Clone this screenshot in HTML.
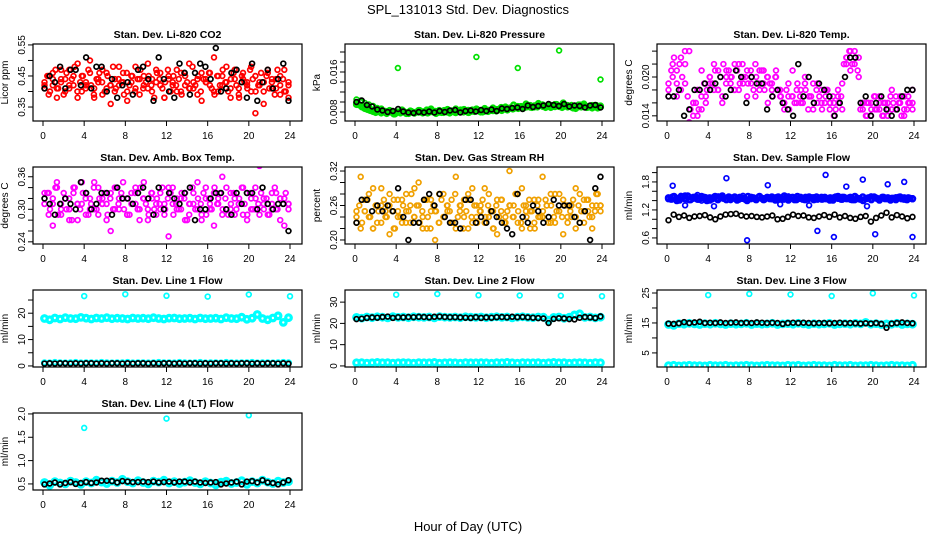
<!DOCTYPE html>
<html><head><meta charset="utf-8">
<style>
html,body{margin:0;padding:0;background:#fff;}
svg{display:block;font-family:"Liberation Sans",sans-serif;}
</style></head>
<body>
<svg id="chart" width="936" height="540" viewBox="0 0 936 540">
<text x="468" y="14" text-anchor="middle" font-size="13">SPL_131013  Std. Dev. Diagnostics</text>
<text x="468" y="531" text-anchor="middle" font-size="13">Hour of Day (UTC)</text>
</svg>
<script>
const xTicks=[0,4,8,12,16,20,24];
// Panel 1 CO2
const co2Red=[0.43,0.39,0.46,0.41,0.44,0.40,0.47,0.42,0.38,0.45,0.43,0.50,0.41,0.44,0.39,0.46,0.42,0.40,0.48,0.43,0.37,0.45,0.41,0.44,0.42,0.49,0.40,0.43,0.46,0.38,0.44,0.42,0.47,0.40,0.45,0.41,0.43,0.39,0.46,0.44,0.42,0.51,0.40,0.45,0.43,0.38,0.47,0.41,0.44,0.42,0.48,0.33,0.43,0.40,0.46,0.41,0.44,0.39,0.47,0.42];
const co2Red2=[0.41,0.45,0.42,0.38,0.47,0.44,0.41,0.45,0.49,0.40,0.42,0.46,0.38,0.43,0.47,0.41,0.36,0.44,0.42,0.46,0.40,0.43,0.48,0.39,0.45,0.41,0.44,0.47,0.42,0.38,0.45,0.43,0.40,0.46,0.42,0.49,0.41,0.44,0.37,0.43,0.46,0.40,0.45,0.42,0.48,0.41,0.44,0.39,0.46,0.43,0.40,0.45,0.42,0.36,0.47,0.43,0.41,0.45,0.40,0.38];
const co2Red3=[0.42,0.45,0.40,0.44,0.47,0.41,0.43,0.39,0.46,0.42,0.44,0.48,0.40,0.43,0.45,0.41,0.47,0.42,0.39,0.44,0.46,0.43,0.40,0.45,0.42,0.48,0.41,0.44,0.43,0.39,0.46,0.42,0.45,0.40,0.44,0.47,0.41,0.43,0.45,0.42,0.38,0.46,0.44,0.41,0.43,0.47,0.40,0.45,0.42,0.44,0.39,0.46,0.43,0.41,0.48,0.42,0.45,0.40,0.44,0.43,0.46,0.41,0.39,0.45,0.42,0.47,0.43,0.40,0.44,0.46,0.42,0.38,0.45,0.43,0.41,0.47,0.44,0.40,0.42,0.46,0.43,0.45,0.41,0.44,0.39,0.47,0.42,0.44,0.40,0.43];
const co2Black=[0.41,0.45,0.43,0.48,0.41,0.47,0.47,0.42,0.51,0.41,0.48,0.48,0.40,0.44,0.38,0.42,0.43,0.39,0.47,0.48,0.44,0.37,0.51,0.44,0.40,0.38,0.49,0.46,0.39,0.46,0.49,0.48,0.44,0.54,0.40,0.41,0.46,0.47,0.43,0.38,0.49,0.37,0.43,0.47,0.41,0.44,0.49,0.37];
// Panel 2 Pressure
const presGreen=[0.0105,0.0100,0.0098,0.0095,0.0092,0.0088,0.0085,0.0082,0.0080,0.0079,0.0168,0.0081,0.0078,0.0080,0.0077,0.0079,0.0081,0.0078,0.0080,0.0082,0.0079,0.0081,0.0083,0.0080,0.0078,0.0082,0.0080,0.0084,0.0081,0.0190,0.0083,0.0081,0.0084,0.0082,0.0085,0.0083,0.0086,0.0088,0.0086,0.0168,0.0090,0.0092,0.0089,0.0093,0.0091,0.0095,0.0092,0.0094,0.0090,0.0203,0.0093,0.0091,0.0094,0.0092,0.0090,0.0093,0.0089,0.0092,0.0090,0.0145];
const presGreen2=[0.0095,0.0102,0.0092,0.0088,0.0084,0.0082,0.0086,0.0079,0.0083,0.0076,0.0080,0.0084,0.0077,0.0082,0.0079,0.0083,0.0078,0.0084,0.0086,0.0080,0.0083,0.0079,0.0085,0.0082,0.0086,0.0081,0.0085,0.0079,0.0084,0.0086,0.0080,0.0087,0.0083,0.0088,0.0085,0.0089,0.0090,0.0087,0.0094,0.0091,0.0088,0.0096,0.0093,0.0090,0.0097,0.0094,0.0092,0.0089,0.0095,0.0091,0.0098,0.0093,0.0090,0.0087,0.0094,0.0096,0.0091,0.0088,0.0093,0.0090];
const presGreen3=[0.0098,0.0094,0.0090,0.0087,0.0085,0.0083,0.0081,0.0079,0.0082,0.0078,0.0080,0.0077,0.0081,0.0079,0.0076,0.0080,0.0078,0.0082,0.0079,0.0077,0.0081,0.0078,0.0080,0.0083,0.0079,0.0081,0.0078,0.0082,0.0080,0.0077,0.0081,0.0079,0.0083,0.0080,0.0078,0.0082,0.0079,0.0081,0.0084,0.0080,0.0082,0.0079,0.0083,0.0081,0.0085,0.0082,0.0080,0.0084,0.0081,0.0083,0.0086,0.0082,0.0085,0.0083,0.0087,0.0084,0.0088,0.0086,0.0089,0.0087,0.0091,0.0088,0.0090,0.0093,0.0089,0.0092,0.0090,0.0094,0.0091,0.0089,0.0093,0.0090,0.0092,0.0095,0.0091,0.0089,0.0093,0.0090,0.0092,0.0088,0.0091,0.0094,0.0090,0.0092,0.0089,0.0091,0.0093,0.0090,0.0088,0.0092];
const presBlack=[0.0100,0.0103,0.0094,0.0091,0.0085,0.0083,0.0080,0.0082,0.0086,0.0081,0.0079,0.0078,0.0080,0.0079,0.0081,0.0079,0.0082,0.0080,0.0083,0.0084,0.0079,0.0082,0.0083,0.0081,0.0084,0.0082,0.0085,0.0082,0.0087,0.0086,0.0088,0.0089,0.0086,0.0093,0.0090,0.0092,0.0093,0.0096,0.0094,0.0092,0.0096,0.0091,0.0093,0.0092,0.0089,0.0093,0.0094,0.0089];
// Panel 3 Li-820 Temp
const tempMag=[0.019,0.022,0.017,0.023,0.019,0.024,0.016,0.014,0.015,0.017,0.019,0.018,0.021,0.017,0.020,0.019,0.022,0.018,0.020,0.021,0.019,0.017,0.021,0.019,0.020,0.018,0.020,0.017,0.016,0.019,0.017,0.016,0.018,0.020,0.017,0.019,0.016,0.018,0.017,0.015,0.016,0.018,0.015,0.023,0.024,0.022,0.023,0.016,0.014,0.016,0.015,0.017,0.014,0.016,0.015,0.017,0.016,0.014,0.017,0.016];
const tempMag2=[0.017,0.020,0.021,0.018,0.022,0.013,0.016,0.018,0.021,0.016,0.020,0.022,0.018,0.016,0.021,0.020,0.018,0.022,0.019,0.017,0.020,0.022,0.018,0.021,0.016,0.019,0.021,0.018,0.015,0.017,0.021,0.018,0.016,0.019,0.017,0.015,0.019,0.016,0.018,0.016,0.014,0.017,0.019,0.022,0.021,0.024,0.020,0.015,0.016,0.014,0.017,0.015,0.016,0.014,0.018,0.015,0.017,0.015,0.016,0.018];
const tempMag3=[0.018,0.021,0.023,0.019,0.022,0.020,0.024,0.017,0.015,0.014,0.016,0.015,0.017,0.019,0.018,0.020,0.019,0.021,0.018,0.020,0.022,0.019,0.021,0.020,0.018,0.021,0.019,0.022,0.020,0.019,0.021,0.018,0.020,0.019,0.021,0.018,0.020,0.019,0.017,0.020,0.018,0.017,0.016,0.018,0.015,0.017,0.016,0.019,0.017,0.016,0.018,0.015,0.017,0.016,0.018,0.017,0.015,0.016,0.018,0.016,0.017,0.015,0.016,0.017,0.022,0.023,0.024,0.022,0.023,0.021,0.015,0.016,0.014,0.016,0.015,0.017,0.015,0.016,0.014,0.016,0.015,0.017,0.016,0.015,0.016,0.014,0.017,0.015,0.016,0.015];
const tempBlack=[0.017,0.017,0.018,0.014,0.015,0.018,0.018,0.019,0.018,0.019,0.020,0.017,0.018,0.021,0.020,0.016,0.020,0.019,0.019,0.015,0.017,0.018,0.016,0.015,0.014,0.022,0.017,0.020,0.016,0.019,0.018,0.017,0.014,0.016,0.020,0.023,0.023,0.016,0.017,0.014,0.016,0.017,0.015,0.014,0.015,0.017,0.018,0.018];
// Panel 4 Amb box temp
const ambMag=[0.31,0.33,0.27,0.35,0.29,0.32,0.30,0.34,0.28,0.31,0.33,0.30,0.35,0.29,0.32,0.31,0.26,0.34,0.30,0.32,0.29,0.33,0.31,0.28,0.35,0.30,0.32,0.29,0.33,0.31,0.25,0.34,0.30,0.32,0.28,0.31,0.33,0.30,0.29,0.34,0.31,0.27,0.32,0.36,0.30,0.33,0.29,0.31,0.34,0.28,0.32,0.30,0.38,0.31,0.29,0.33,0.30,0.32,0.27,0.31];
const ambMag2=[0.33,0.29,0.31,0.34,0.30,0.32,0.28,0.33,0.31,0.35,0.29,0.32,0.30,0.34,0.31,0.28,0.33,0.30,0.32,0.35,0.29,0.31,0.34,0.30,0.32,0.28,0.33,0.31,0.30,0.29,0.34,0.31,0.32,0.30,0.33,0.29,0.31,0.35,0.28,0.32,0.30,0.33,0.31,0.29,0.34,0.30,0.32,0.31,0.29,0.33,0.30,0.34,0.29,0.32,0.31,0.30,0.33,0.28,0.32,0.31];
const ambMag3=[0.31,0.33,0.30,0.32,0.34,0.29,0.31,0.33,0.30,0.32,0.28,0.34,0.31,0.30,0.33,0.32,0.29,0.31,0.34,0.30,0.32,0.31,0.33,0.29,0.32,0.30,0.34,0.31,0.33,0.30,0.32,0.29,0.31,0.33,0.30,0.34,0.32,0.31,0.29,0.33,0.30,0.32,0.31,0.34,0.30,0.32,0.33,0.29,0.31,0.30,0.33,0.32,0.28,0.31,0.34,0.30,0.32,0.31,0.33,0.29,0.32,0.30,0.34,0.31,0.33,0.30,0.32,0.29,0.31,0.33,0.30,0.32,0.34,0.31,0.29,0.33,0.30,0.32,0.31,0.33,0.30,0.32,0.29,0.31,0.34,0.30,0.32,0.31,0.33,0.30];
const ambBlack=[0.32,0.31,0.29,0.31,0.32,0.31,0.30,0.35,0.33,0.30,0.31,0.33,0.33,0.29,0.34,0.32,0.32,0.31,0.33,0.34,0.32,0.29,0.34,0.30,0.33,0.32,0.31,0.33,0.34,0.28,0.30,0.30,0.32,0.33,0.33,0.30,0.29,0.33,0.31,0.33,0.33,0.30,0.34,0.31,0.30,0.31,0.31,0.26];
// Panel 5 Gas stream RH
const rhYel=[0.23,0.31,0.25,0.28,0.22,0.26,0.29,0.24,0.21,0.27,0.25,0.23,0.28,0.26,0.24,0.30,0.22,0.27,0.25,0.20,0.28,0.24,0.26,0.23,0.31,0.25,0.27,0.22,0.29,0.24,0.26,0.23,0.28,0.25,0.21,0.27,0.24,0.32,0.26,0.23,0.29,0.25,0.22,0.27,0.24,0.31,0.26,0.23,0.28,0.25,0.21,0.26,0.24,0.29,0.23,0.27,0.25,0.22,0.28,0.26];
const rhYel2=[0.25,0.22,0.27,0.24,0.29,0.23,0.26,0.25,0.28,0.22,0.24,0.27,0.25,0.23,0.29,0.26,0.24,0.22,0.27,0.25,0.23,0.28,0.25,0.27,0.22,0.26,0.24,0.28,0.23,0.26,0.25,0.29,0.24,0.22,0.27,0.25,0.23,0.26,0.24,0.28,0.22,0.26,0.25,0.23,0.27,0.24,0.26,0.28,0.23,0.25,0.27,0.24,0.26,0.22,0.28,0.25,0.27,0.24,0.26,0.25];
const rhYel3=[0.24,0.26,0.23,0.25,0.27,0.24,0.22,0.26,0.25,0.23,0.27,0.24,0.26,0.25,0.22,0.27,0.24,0.26,0.23,0.25,0.28,0.24,0.26,0.23,0.25,0.27,0.24,0.22,0.26,0.25,0.23,0.27,0.24,0.26,0.25,0.23,0.28,0.24,0.26,0.22,0.25,0.27,0.24,0.26,0.23,0.25,0.27,0.24,0.26,0.25,0.22,0.26,0.24,0.27,0.23,0.25,0.26,0.24,0.28,0.25,0.23,0.26,0.24,0.27,0.25,0.22,0.26,0.24,0.25,0.27,0.23,0.26,0.24,0.25,0.28,0.24,0.26,0.23,0.25,0.27,0.24,0.26,0.25,0.23,0.27,0.24,0.26,0.25,0.28,0.26];
const rhBlack=[0.23,0.27,0.27,0.25,0.26,0.25,0.26,0.25,0.29,0.24,0.20,0.23,0.23,0.27,0.28,0.26,0.28,0.24,0.23,0.23,0.22,0.27,0.27,0.23,0.24,0.23,0.25,0.24,0.23,0.22,0.21,0.28,0.24,0.23,0.26,0.25,0.23,0.24,0.27,0.26,0.26,0.26,0.24,0.23,0.25,0.20,0.29,0.31];
// Panel 6 Sample flow
const sfBlue=[1.46,1.72,1.42,1.50,1.30,1.48,1.44,1.52,1.40,1.47,1.43,1.28,1.49,1.45,1.88,1.41,1.47,1.44,1.50,0.55,1.46,1.42,1.48,1.45,1.73,1.43,1.47,1.32,1.44,1.49,1.46,1.41,1.48,1.45,1.30,1.47,0.75,1.43,1.95,1.46,0.62,1.44,1.48,1.70,1.42,1.47,1.45,1.85,1.28,1.49,0.68,1.44,1.46,1.75,1.43,1.47,1.45,1.80,1.44,0.62];
const sfBlue2=[1.44,1.48,1.40,1.46,1.50,1.42,1.47,1.43,1.49,1.45,1.41,1.47,1.44,1.50,1.42,1.46,1.48,1.43,1.45,1.40,1.47,1.44,1.49,1.42,1.46,1.48,1.43,1.45,1.50,1.41,1.47,1.44,1.46,1.42,1.48,1.45,1.43,1.47,1.44,1.41,1.46,1.49,1.43,1.45,1.47,1.42,1.44,1.48,1.45,1.43,1.46,1.41,1.47,1.44,1.45,1.42,1.48,1.43,1.46,1.44];
const sfBlue3=[1.46,1.43,1.49,1.45,1.41,1.47,1.44,1.50,1.42,1.46,1.48,1.43,1.45,1.47,1.40,1.46,1.44,1.49,1.42,1.47,1.45,1.43,1.48,1.44,1.46,1.41,1.47,1.45,1.43,1.49,1.44,1.46,1.42,1.48,1.45,1.43,1.47,1.44,1.46,1.41,1.48,1.45,1.43,1.47,1.44,1.46,1.42,1.49,1.45,1.43,1.47,1.44,1.46,1.42,1.48,1.45,1.43,1.47,1.44,1.46,1.41,1.48,1.45,1.43,1.47,1.44,1.46,1.42,1.49,1.45,1.43,1.40,1.44,1.46,1.42,1.48,1.45,1.43,1.47,1.44,1.46,1.41,1.45,1.43,1.47,1.44,1.46,1.42,1.45,1.44];
const sfBlack=[0.98,1.10,1.05,1.08,1.03,1.06,1.07,1.09,1.04,1.00,1.06,1.10,1.11,1.12,1.08,1.06,1.07,1.05,1.04,1.06,1.08,1.00,1.01,1.05,1.10,1.07,1.08,1.04,1.03,1.06,1.09,1.05,1.10,1.04,1.07,1.03,1.01,1.05,1.07,0.95,1.03,1.08,1.14,1.04,1.09,1.06,1.02,1.05];
// Panel 7 Line 1
const l1Cyan=[18.0,17.5,18.2,17.8,18.3,18.0,17.9,18.4,18.1,17.8,18.2,18.0,18.3,17.9,18.1,18.0,17.8,18.2,18.0,18.1,17.9,18.3,18.0,17.8,18.1,18.2,17.9,18.0,18.1,17.8,18.2,17.9,18.0,18.1,17.8,18.3,18.0,17.9,18.5,17.7,18.1,19.5,18.0,17.5,18.2,19.0,16.5,18.3];
const l1CyanLow=[1.2,1.1,1.3,1.2,1.1,1.2,1.3,1.1,1.2,1.2,1.1,1.3,1.2,1.1,1.2,1.2,1.3,1.1,1.2,1.2,1.1,1.2,1.3,1.2,1.2,1.1,1.3,1.2,1.1,1.2,1.3,1.1,1.2,1.2,1.1,1.3,1.2,1.1,1.2,1.2,1.3,1.1,1.2,1.2,1.1,1.2,1.3,1.2];
const l1Black=[0.9,1.0,0.9,1.0,1.0,0.9,1.0,0.9,1.0,1.0,0.9,1.0,0.9,1.0,1.0,0.9,1.0,0.9,1.0,1.0,0.9,1.0,0.9,1.0,1.0,0.9,1.0,0.9,1.0,1.0,0.9,1.0,0.9,1.0,1.0,0.9,1.0,0.9,1.0,1.0,0.9,1.0,0.9,1.0,1.0,0.9,1.0,0.8];
const l1OutHours=[4,8,12,16,20,24];
const l1OutVals=[26.5,27.2,26.6,26.3,27.1,26.4];
// Panel 8 Line 2
const l2Cyan=[22.8,22.5,23.0,22.7,23.1,22.9,22.6,23.2,22.8,23.0,22.7,23.1,22.9,22.8,23.0,22.6,23.2,22.9,22.8,23.0,22.7,23.1,22.9,22.8,23.0,22.7,22.9,23.1,22.8,23.0,22.6,22.9,23.1,22.8,22.7,23.0,22.9,21.5,22.8,23.0,22.4,22.9,24.0,24.5,22.8,23.0,22.6,22.9];
const l2CyanLow=[1.5,1.6,1.4,1.5,1.7,1.5,1.6,1.4,1.5,1.6,1.5,1.4,1.6,1.5,1.5,1.7,1.4,1.5,1.6,1.5,1.4,1.6,1.5,1.5,1.6,1.5,1.4,1.6,1.5,1.7,1.5,1.4,1.6,1.5,1.5,1.6,1.4,1.5,1.7,1.5,1.6,1.4,1.5,1.6,1.5,1.4,1.6,1.5];
const l2Black=[22.0,22.2,22.6,22.8,22.7,23.0,23.2,22.6,22.9,22.8,23.0,22.9,23.1,23.0,22.8,23.1,23.2,23.0,22.9,22.9,22.8,22.7,22.6,22.9,22.6,22.8,22.7,22.9,23.0,22.8,23.1,22.9,23.0,22.8,22.7,22.5,22.3,20.2,22.1,22.4,22.3,22.0,21.9,22.7,23.0,22.8,22.5,23.3];
const l2OutHours=[4,8,12,16,20,24];
const l2OutVals=[33.5,33.8,33.2,33.1,33.0,32.8];
// Panel 9 Line 3
const l3Cyan=[14.5,14.2,14.8,14.6,14.9,14.7,14.5,14.8,14.6,14.9,14.7,14.5,14.8,14.6,14.7,14.9,14.5,14.8,14.6,14.7,14.9,14.5,14.7,14.8,14.6,14.9,14.7,14.5,14.8,14.6,14.7,14.9,14.5,14.7,14.8,14.6,14.9,14.7,15.2,14.6,14.8,14.5,14.7,14.6,14.9,14.5,14.7,14.6];
const l3CyanLow=[0.8,0.9,0.7,0.8,0.9,0.8,0.8,0.7,0.9,0.8,0.8,0.9,0.7,0.8,0.8,0.9,0.8,0.7,0.8,0.9,0.8,0.8,0.7,0.9,0.8,0.9,0.7,0.8,0.9,0.8,0.8,0.7,0.9,0.8,0.8,0.9,0.7,0.8,0.8,0.9,0.8,0.7,0.8,0.9,0.8,0.8,0.7,0.9];
const l3Black=[14.8,14.7,14.9,15.3,15.0,15.2,15.4,15.0,15.1,15.0,15.2,15.0,15.1,15.2,15.0,15.1,15.0,15.2,15.1,15.0,15.1,15.0,14.7,15.0,15.1,15.0,15.1,15.0,14.9,15.0,15.0,14.9,15.0,15.1,14.9,15.0,14.9,14.8,14.9,14.8,15.0,14.7,13.4,14.8,15.0,15.2,15.0,14.9];
const l3OutHours=[4,8,12,16,20,24];
const l3OutVals=[24.3,24.7,24.5,24.0,24.9,24.2];
// Panel 10 Line 4
const l4Cyan=[0.53,0.47,0.55,0.52,0.50,0.56,0.53,0.49,0.55,0.52,0.58,0.54,0.51,0.56,0.53,0.60,0.55,0.52,0.57,0.53,0.50,0.56,0.54,0.58,0.52,0.55,0.51,0.54,0.57,0.53,0.50,0.55,0.52,0.48,0.54,0.56,0.51,0.53,0.57,0.49,0.55,0.52,0.58,0.54,0.51,0.56,0.53,0.55];
const l4Black=[0.49,0.51,0.53,0.49,0.52,0.54,0.50,0.52,0.54,0.52,0.53,0.57,0.57,0.56,0.53,0.56,0.55,0.54,0.54,0.55,0.54,0.55,0.53,0.54,0.55,0.53,0.55,0.55,0.53,0.55,0.53,0.52,0.53,0.54,0.49,0.51,0.53,0.55,0.49,0.55,0.56,0.53,0.58,0.53,0.52,0.49,0.53,0.58];
const l4OutHours=[4,12,20];
const l4OutVals=[1.70,1.90,1.97];

const NS="http://www.w3.org/2000/svg";
const svg=document.getElementById('chart');
function el(tag,attrs,parent){const e=document.createElementNS(NS,tag);for(const k in attrs)e.setAttribute(k,attrs[k]);(parent||svg).appendChild(e);return e;}

const panels=[
 {key:'co2',col:0,row:0,title:'Stan. Dev. Li-820 CO2',ylab:'Licor ppm',ymin:0.305,ymax:0.553,ticks:[0.35,0.40,0.45,0.50,0.55],labels:[0.35,0.45,0.55],dec:2,
  series:[{d:co2Red3,c:'#ff0000'},{d:co2Red,c:'#ff0000'},{d:co2Red2,c:'#ff0000'},{d:co2Black,c:'#000'}]},
 {key:'pressure',col:1,row:0,title:'Stan. Dev. Li-820 Pressure',ylab:'kPa',ymin:0.0062,ymax:0.0216,ticks:[0.008,0.010,0.012,0.014,0.016,0.018,0.020],labels:[0.008,0.016],dec:3,
  series:[{d:presGreen3,c:'#00e000',w:2.4},{d:presGreen,c:'#00e000'},{d:presGreen2,c:'#00e000',w:2.4},{d:presBlack,c:'#000'}]},
 {key:'li820-temp',col:2,row:0,title:'Stan. Dev. Li-820 Temp.',ylab:'degrees C',ymin:0.0132,ymax:0.0251,ticks:[0.014,0.016,0.018,0.020,0.022,0.024],labels:[0.014,0.020],dec:3,
  series:[{d:tempMag3,c:'#ff00ff'},{d:tempMag,c:'#ff00ff'},{d:tempMag2,c:'#ff00ff'},{d:tempBlack,c:'#000'}]},
 {key:'amb-temp',col:0,row:1,title:'Stan. Dev. Amb. Box Temp.',ylab:'degrees C',ymin:0.236,ymax:0.378,ticks:[0.24,0.26,0.28,0.30,0.32,0.34,0.36],labels:[0.24,0.30,0.36],dec:2,
  series:[{d:ambMag3,c:'#ff00ff'},{d:ambMag,c:'#ff00ff'},{d:ambMag2,c:'#ff00ff'},{d:ambBlack,c:'#000'}]},
 {key:'rh',col:1,row:1,title:'Stan. Dev. Gas Stream RH',ylab:'percent',ymin:0.193,ymax:0.327,ticks:[0.20,0.22,0.24,0.26,0.28,0.30,0.32],labels:[0.20,0.26,0.32],dec:2,
  series:[{d:rhYel3,c:'#f0a000'},{d:rhYel,c:'#f0a000'},{d:rhYel2,c:'#f0a000'},{d:rhBlack,c:'#000'}]},
 {key:'sample-flow',col:2,row:1,title:'Stan. Dev. Sample Flow',ylab:'ml/min',ymin:0.47,ymax:2.12,ticks:[0.6,0.8,1.0,1.2,1.4,1.6,1.8,2.0],labels:[0.6,1.2,1.8],dec:1,
  series:[{d:sfBlue3,c:'#0000ff',w:2.6},{d:sfBlue2,c:'#0000ff',w:2.6},{d:sfBlue,c:'#0000ff'},{d:sfBlack,c:'#000'}]},
 {key:'line1',col:0,row:2,title:'Stan. Dev. Line 1 Flow',ylab:'ml/min',ymin:-0.4,ymax:28.8,ticks:[0,5,10,15,20,25],labels:[0,10,20],dec:0,
  series:[{d:l1Cyan,c:'#00ffff',w:3.2,r:2.8},{d:l1CyanLow,c:'#00ffff',w:2.4},{d:l1Black,c:'#000'},{h:l1OutHours,d:l1OutVals,c:'#00ffff'}]},
 {key:'line2',col:1,row:2,title:'Stan. Dev. Line 2 Flow',ylab:'ml/min',ymin:-0.5,ymax:35.7,ticks:[0,10,20,30],labels:[0,10,20,30],dec:0,
  series:[{d:l2Cyan,c:'#00ffff',w:3.2,r:2.8},{d:l2CyanLow,c:'#00ffff',w:3,r:2.8},{d:l2Black,c:'#000'},{h:l2OutHours,d:l2OutVals,c:'#00ffff'}]},
 {key:'line3',col:2,row:2,title:'Stan. Dev. Line 3 Flow',ylab:'ml/min',ymin:0.3,ymax:26,ticks:[5,10,15,20,25],labels:[5,15,25],dec:0,
  series:[{d:l3Cyan,c:'#00ffff',w:3.2,r:2.8},{d:l3CyanLow,c:'#00ffff',w:3,r:2.8},{d:l3Black,c:'#000'},{h:l3OutHours,d:l3OutVals,c:'#00ffff'}]},
 {key:'line4',col:0,row:3,title:'Stan. Dev. Line 4 (LT) Flow',ylab:'ml/min',ymin:0.37,ymax:2.02,ticks:[0.5,1.0,1.5,2.0],labels:[0.5,1.0,1.5,2.0],dec:1,
  series:[{d:l4Cyan,c:'#00ffff',w:3.2,r:2.8},{d:l4Black,c:'#000'},{h:l4OutHours,d:l4OutVals,c:'#00ffff'}]}
];

panels.forEach(p=>{
  const x0=43+312*p.col, top=44+123*p.row, bot=top+77;
  const bl=x0-10, br=x0+259;
  const xs=h=>x0+h*247/24;
  const ys=v=>bot-(v-p.ymin)/(p.ymax-p.ymin)*(bot-top);
  const g=el('g',{});
  
  
  const clip=el('clipPath',{id:'clip-'+p.key},g);
  el('rect',{x:bl,y:top,width:br-bl,height:bot-top},clip);
  const t=el('text',{x:(bl+br)/2,y:top-6,'text-anchor':'middle','font-size':'10.5','font-weight':'bold'},g);
  t.textContent=p.title;
  
  
  const yl=el('text',{transform:`translate(${bl-25},${(top+bot)/2}) rotate(-90)`,'text-anchor':'middle','font-size':'10'},g);
  yl.textContent=p.ylab;
  
  
  const pts=el('g',{'clip-path':`url(#clip-${p.key})`,fill:'none'},g);
  
  
  p.series.forEach(s=>{
    const n=s.d.length;
    s.d.forEach((v,i)=>{
      const h=s.h?s.h[i]:0.15+i*23.7/(n-1);
      const c=el('circle',{cx:xs(h).toFixed(1),cy:ys(v).toFixed(1),r:s.r||2.4,stroke:s.c,'stroke-width':s.w||1.7},pts);
      
      
    });
  });
  const box=el('rect',{x:bl,y:top,width:br-bl,height:bot-top,fill:'none',stroke:'#000','stroke-width':'1.2'},g);
  
  
  xTicks.forEach(h=>{
    el('line',{x1:xs(h),x2:xs(h),y1:bot,y2:bot+5,stroke:'#000'},g);
    const tl=el('text',{x:xs(h),y:bot+18,'text-anchor':'middle','font-size':'10'},g);
    tl.textContent=h;
    
    
  });
  p.ticks.forEach(v=>{
    el('line',{x1:bl,x2:bl-5,y1:ys(v),y2:ys(v),stroke:'#000'},g);
  });
  p.labels.forEach(v=>{
    const tl=el('text',{transform:`translate(${bl-8},${ys(v)}) rotate(-90)`,'text-anchor':'middle','font-size':'10'},g);
    tl.textContent=v.toFixed(p.dec);
    
    
  });
});
</script>
</body></html>
